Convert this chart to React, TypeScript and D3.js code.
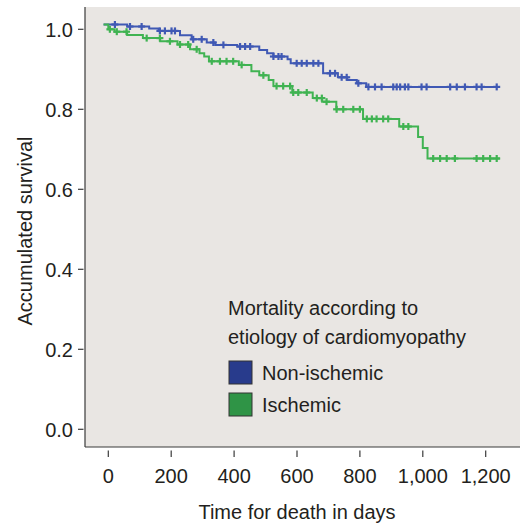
import React from "react";
import * as d3 from "d3";

// Step curves: times (days) at which survival drops, and survival after the drop
const blueTimes = [-15, 60, 130, 160, 228, 265, 313, 340, 410, 480, 505, 525, 570, 580, 683, 730, 760, 790, 820];
const blueSurv = [1.012, 1.007, 1.002, 0.996, 0.985, 0.975, 0.967, 0.961, 0.957, 0.948, 0.94, 0.932, 0.925, 0.915, 0.89, 0.88, 0.873, 0.865, 0.856];
const blueEnd = 1245;
const blueCensor = [21, 69, 106, 164, 180, 201, 212, 270, 297, 334, 366, 419, 435, 451, 525, 541, 551, 599, 615, 631, 652, 668, 705, 721, 742, 758, 795, 827, 848, 869, 906, 917, 928, 943, 954, 996, 1012, 1087, 1108, 1134, 1171, 1187, 1235];

const greenTimes = [-15, 0, 20, 60, 110, 165, 220, 260, 290, 305, 320, 415, 455, 480, 510, 525, 585, 650, 680, 725, 810, 925, 985, 1000, 1015];
const greenSurv = [1.012, 1.0, 0.994, 0.986, 0.978, 0.97, 0.962, 0.95, 0.94, 0.932, 0.92, 0.911, 0.895, 0.885, 0.873, 0.858, 0.842, 0.828, 0.819, 0.8, 0.776, 0.757, 0.731, 0.703, 0.677];
const greenEnd = 1245;
const greenCensor = [5, 27, 58, 122, 164, 196, 228, 254, 281, 329, 355, 376, 397, 424, 493, 535, 556, 578, 588, 604, 631, 663, 679, 694, 726, 747, 779, 800, 822, 838, 853, 874, 890, 938, 954, 1033, 1055, 1076, 1102, 1171, 1192, 1214, 1235];

const xTicks = [0, 200, 400, 600, 800, 1000, 1200];
const yTicks = [0, 0.2, 0.4, 0.6, 0.8, 1.0];
const legendTitle = ["Mortality according to", "etiology of cardiomyopathy"];
const seriesNames = ["Non-ischemic", "Ischemic"];

const FONT = "'Liberation Sans', Arial, Helvetica, sans-serif";
const TEXT = "#231f20";

export default function App() {
  const x = d3.scaleLinear().domain([0, 1200]).range([108.3, 485.7]);
  const y = d3.scaleLinear().domain([0, 1]).range([429.3, 29.3]);
  const line = d3
    .line<[number, number]>()
    .x((d) => x(d[0]))
    .y((d) => y(d[1]))
    .curve(d3.curveStepAfter);

  const makePts = (times: number[], surv: number[], end: number): [number, number][] => {
    const pts: [number, number][] = times.map((t, i) => [t, surv[i]]);
    pts.push([end, surv[surv.length - 1]]);
    return pts;
  };
  const survAt = (times: number[], surv: number[], t: number) => {
    let v = surv[0];
    for (let i = 0; i < times.length; i++) if (times[i] <= t) v = surv[i];
    return v;
  };

  const series = [
    { times: blueTimes, surv: blueSurv, end: blueEnd, censor: blueCensor, color: "#4059b4", swatch: "#283b8c" },
    { times: greenTimes, surv: greenSurv, end: greenEnd, censor: greenCensor, color: "#40b352", swatch: "#2f9446" },
  ];

  const left = 85, right = 520, top = 7, bottom = 447;

  return (
    <svg width={525} height={525} style={{ position: "absolute", left: 0, top: 0, background: "#fff" }}>
      <rect x={left} y={top} width={right - left} height={bottom - top} fill="#e9e6e3" />
      <line x1={left} x2={left} y1={top} y2={bottom} stroke="#3a3a3a" strokeWidth={1.2} />
      <line x1={left} x2={right} y1={bottom} y2={bottom} stroke="#3a3a3a" strokeWidth={1.2} />
      {yTicks.map((t) => (
        <g key={"y" + t}>
          <line x1={78} x2={83.5} y1={y(t)} y2={y(t)} stroke="#3a3a3a" strokeWidth={1.2} />
          <text x={73} y={y(t)} dy="0.36em" textAnchor="end" fontFamily={FONT} fontSize={20} fill={TEXT}>
            {t.toFixed(1)}
          </text>
        </g>
      ))}
      {xTicks.map((t) => (
        <g key={"x" + t}>
          <line x1={x(t)} x2={x(t)} y1={450.5} y2={457} stroke="#3a3a3a" strokeWidth={1.2} />
          <text x={x(t)} y={476} dy="0.36em" textAnchor="middle" fontFamily={FONT} fontSize={20} fill={TEXT}>
            {d3.format(",")(t)}
          </text>
        </g>
      ))}
      <text x={(x(0) + x(1200)) / 2} y={512} dy="0.36em" textAnchor="middle" fontFamily={FONT} fontSize={20} fill={TEXT}>
        Time for death in days
      </text>
      <text
        transform={`translate(25,${(top + bottom) / 2 + 4}) rotate(-90)`}
        dy="0.36em"
        textAnchor="middle"
        fontFamily={FONT}
        fontSize={20}
        fill={TEXT}
      >
        Accumulated survival
      </text>

      {series.map((s, i) => (
        <g key={"s" + i}>
          <path d={line(makePts(s.times, s.surv, s.end)) || ""} fill="none" stroke={s.color} strokeWidth={2} />
          {s.censor.map((c, j) => {
            const cx = x(c), cy = y(survAt(s.times, s.surv, c));
            return (
              <g key={j} stroke={s.color} strokeWidth={2.2}>
                <line x1={cx - 3.5} x2={cx + 3.5} y1={cy} y2={cy} />
                <line x1={cx} x2={cx} y1={cy - 3.5} y2={cy + 3.5} />
              </g>
            );
          })}
        </g>
      ))}

      {legendTitle.map((l, i) => (
        <text key={"lt" + i} x={228} y={308 + i * 29} dy="0.36em" fontFamily={FONT} fontSize={20} fill={TEXT}>
          {l}
        </text>
      ))}
      {seriesNames.map((n, i) => (
        <g key={"lg" + i}>
          <rect x={229} y={361 + i * 32} width={23} height={23} fill={series[i].swatch} stroke="#333" strokeWidth={1} />
          <text x={262} y={372.5 + i * 32} dy="0.36em" fontFamily={FONT} fontSize={20} fill={TEXT}>
            {n}
          </text>
        </g>
      ))}
    </svg>
  );
}
